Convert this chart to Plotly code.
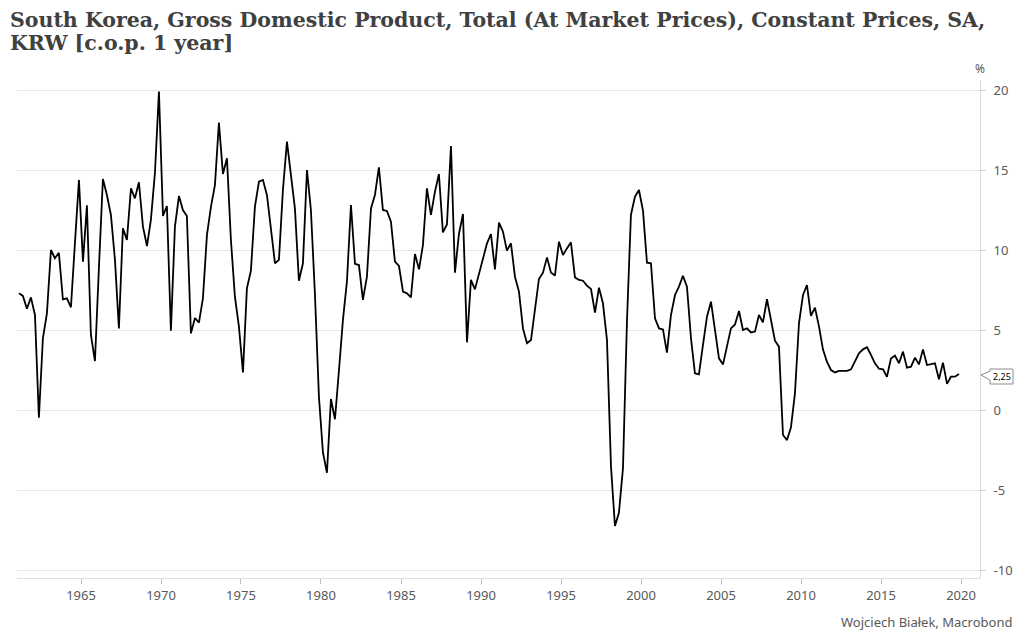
import pandas as pd
import plotly.graph_objects as go

# Quarterly GDP growth, y/y %, 1961Q1 .. 2019Q4
start_quarter = "1961Q1"
gdp_yoy = [
    7.29, 7.13, 6.33, 7.04, 5.94, -0.48, 4.48, 6.04, 10.0, 9.48, 9.83, 6.92,
    6.98, 6.42, 10.4, 14.38, 9.27, 12.79, 4.69, 3.06, 8.96, 14.44, 13.44, 12.19,
    9.38, 5.1, 11.35, 10.63, 13.85, 13.23, 14.23, 11.46, 10.25, 11.9, 14.8, 19.9,
    12.13, 12.75, 4.96, 11.46, 13.38, 12.5, 12.13, 4.79, 5.75, 5.46, 6.98, 10.94,
    12.71, 14.06, 17.96, 14.75, 15.73, 10.63, 7.08, 5.21, 2.35, 7.6, 8.7, 12.71,
    14.27, 14.38, 13.44, 11.46, 9.17, 9.38, 13.75, 16.77, 14.79, 12.6, 8.08, 9.17,
    15.0, 12.5, 7.3, 0.83, -2.67, -3.92, 0.69, -0.58, 2.5, 5.63, 8.02, 12.81,
    9.13, 9.06, 6.88, 8.33, 12.6, 13.44, 15.17, 12.5, 12.44, 11.77, 9.27, 9.0,
    7.4, 7.29, 7.04, 9.75, 8.79, 10.31, 13.85, 12.19, 13.65, 14.75, 11.1, 11.6,
    16.5, 8.58, 11.0, 12.25, 4.23, 8.13, 7.54, 8.54, 9.58, 10.4, 11.0, 8.79,
    11.71, 11.15, 9.96, 10.42, 8.33, 7.4, 5.1, 4.17, 4.38, 6.25, 8.19, 8.58,
    9.54, 8.6, 8.4, 10.52, 9.69, 10.1, 10.48, 8.29, 8.13, 8.08, 7.77, 7.56,
    6.08, 7.65, 6.67, 4.38, -3.54, -7.25, -6.42, -3.65, 5.6, 12.19, 13.33, 13.75,
    12.46, 9.21, 9.17, 5.73, 5.1, 5.04, 3.58, 5.94, 7.19, 7.71, 8.38, 7.71,
    4.48, 2.29, 2.23, 4.06, 5.83, 6.77, 5.1, 3.23, 2.85, 3.96, 5.1, 5.35,
    6.19, 5.0, 5.1, 4.85, 4.9, 5.94, 5.48, 6.92, 5.63, 4.33, 3.96, -1.56,
    -1.88, -1.08, 1.04, 5.42, 7.19, 7.81, 5.88, 6.4, 5.21, 3.79, 3.02, 2.5,
    2.35, 2.44, 2.44, 2.44, 2.54, 3.02, 3.54, 3.79, 3.92, 3.44, 2.92, 2.58,
    2.54, 2.08, 3.21, 3.4, 2.92, 3.65, 2.65, 2.71, 3.27, 2.85, 3.79, 2.81,
    2.88, 2.92, 1.92, 2.96, 1.63, 2.08, 2.08, 2.25,
]
tick_years = [1965, 1970, 1975, 1980, 1985, 1990, 1995, 2000, 2005, 2010, 2015, 2020]
y_ticks = [-10, -5, 0, 5, 10, 15, 20]
last_label = "2,25"
title_line1 = "South Korea, Gross Domestic Product, Total (At Market Prices), Constant Prices, SA,"
title_line2 = "KRW [c.o.p. 1 year]"
source_text = "Wojciech Białek, Macrobond"

dates = pd.period_range(start_quarter, periods=len(gdp_yoy), freq="Q").to_timestamp() + pd.Timedelta(days=45)

# the page body has an 8px margin: the figure is drawn 8px in from the top-left corner
OFF = 8
W, H = 1016 - OFF, 633 - OFF
PL, PR, PT, PB = 17, 980, 80, 578          # plot area in screen pixels
ML, MR, MT, MB = PL - OFF, (W + OFF) - PR, PT - OFF, (H + OFF) - PB
PW, PH = PR - PL, PB - PT
Y_MIN, Y_MAX = -10.5, 20.625

def paper_x(sx):
    return (sx - PL) / PW

def paper_y(sy):
    return (PB - sy) / PH

fig = go.Figure()
fig.add_trace(go.Scatter(x=dates, y=gdp_yoy, mode="lines",
                         line=dict(color="#000000", width=1.8), hoverinfo="x+y"))

grey = "#595959"
fig.update_layout(
    width=W, height=H,
    margin=dict(l=ML, r=MR, t=MT, b=MB, autoexpand=False),
    paper_bgcolor="white", plot_bgcolor="white",
    showlegend=False,
    font=dict(family="Noto Sans, Open Sans, sans-serif", size=13, color=grey),
    xaxis=dict(type="date", range=["1961-01-01", "2021-03-09"],
               tickvals=[f"{y}-01-01" for y in tick_years], ticktext=[str(y) for y in tick_years],
               showgrid=False, showline=True, linecolor="#e0e0e0", linewidth=1,
               ticks="outside", ticklen=5, tickcolor="#bfbfbf",
               tickfont=dict(size=13, color=grey), zeroline=False),
    yaxis=dict(side="right", range=[Y_MIN, Y_MAX], tickvals=y_ticks,
               ticktext=[str(v) for v in y_ticks],
               showgrid=True, gridcolor="#e6e6e6", gridwidth=1,
               showline=True, linecolor="#d9d9d9", linewidth=1,
               ticks="outside", ticklen=5, tickcolor="#cfcfcf", ticklabelstandoff=5,
               tickfont=dict(size=13, color=grey), zeroline=False),
)

# title (two lines)
title_font = dict(family="DejaVu Serif, serif", size=20.5, color="#404040", weight="bold")
for txt, sy in ((title_line1, 20), (title_line2, 43.5)):
    fig.add_annotation(text=txt, xref="paper", yref="paper", x=paper_x(8), y=paper_y(sy),
                       xanchor="left", yanchor="middle", showarrow=False, font=title_font)

# "%" unit label above the right axis
fig.add_annotation(text="%", xref="paper", yref="paper", x=1, y=paper_y(69), xanchor="center",
                   yanchor="middle", showarrow=False, font=dict(size=12, color=grey))

# source
fig.add_annotation(text=source_text, xref="paper", yref="paper",
                   x=paper_x(1014), y=paper_y(622), xanchor="right", yanchor="middle",
                   showarrow=False, font=dict(size=13, color=grey))

# last-value callout
last = gdp_yoy[-1]
py = (last - Y_MIN) / (Y_MAX - Y_MIN)  # paper y of last value

def cx(dx):
    return 1 + dx / PW

def cy(dy):  # dy in screen pixels, downwards positive
    return py - dy / PH

path = (f"M {cx(1)} {cy(1)} L {cx(10)} {cy(-3)} L {cx(10)} {cy(-5)} L {cx(33)} {cy(-5)} "
        f"L {cx(33)} {cy(10)} L {cx(10)} {cy(10)} L {cx(10)} {cy(6)} Z")
fig.add_shape(type="path", path=path, xref="paper", yref="paper",
              line=dict(color="#8c8c8c", width=1), fillcolor="white", layer="above")
fig.add_annotation(text=last_label, xref="paper", yref="paper", x=cx(21.5), y=cy(2.5),
                   xanchor="center", yanchor="middle", showarrow=False,
                   font=dict(size=9, color="#000000", family="Noto Sans, sans-serif"))

fig.write_html("out.html")
